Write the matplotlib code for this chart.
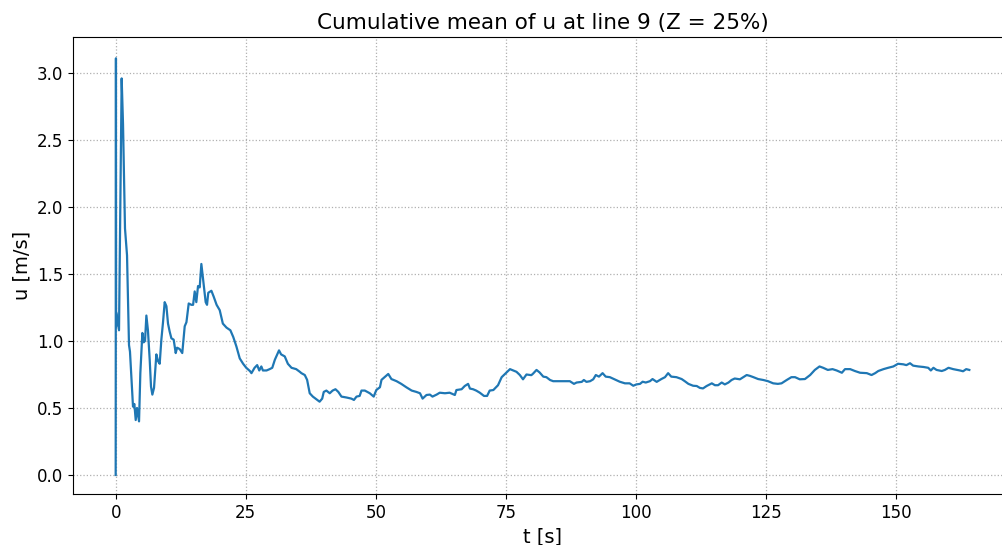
import matplotlib
matplotlib.use("Agg")
import matplotlib.pyplot as plt
import numpy as np

# cumulative mean of u
t = [0.0, 0.05, 0.08, 0.13, 0.64, 1.15, 1.41, 1.79, 2.18, 2.56, 2.75, 3.33, 3.59, 3.85, 4.1, 4.49,
     4.74, 5.13, 5.38, 5.64, 5.9, 6.2, 6.54, 6.79, 7.05, 7.37, 7.82, 8.14, 8.46, 8.78, 9.1,
     9.42, 9.75, 10.06, 10.38, 10.71, 11.15, 11.54, 11.8, 12.3, 12.8, 13.27, 13.6, 14.04,
     14.56, 14.88, 15.19, 15.5, 15.83, 16.15, 16.47, 16.9, 17.3, 17.56, 17.8, 18.4, 18.85,
     19.4, 20.0, 20.6, 21.3, 22.05, 22.6, 23.2, 23.85, 24.5, 25.1, 25.8, 26.1, 26.7, 27.2,
     27.6, 28.0, 28.3, 29.0, 29.6, 30.1, 30.6, 31.0, 31.4, 31.8, 32.5, 33.1, 33.8, 34.7,
     35.4, 35.7, 36.35, 36.8, 37.3, 37.9, 38.6, 39.2, 39.7, 40.0, 40.5, 41.15, 41.7, 42.25,
     42.8, 43.4, 44.4, 45.3, 45.8, 46.3, 46.9, 47.25, 47.9, 48.85, 49.6, 50.1, 50.8, 51.1,
     51.7, 52.4, 53.0, 54.0, 54.9, 55.9, 56.9, 57.8, 58.5, 59.0, 59.75, 60.4, 60.9, 61.7,
     62.3, 63.3, 64.2, 65.2, 65.5, 66.5, 67.1, 67.75, 68.1, 68.7, 69.3, 70.0, 70.8, 71.4,
     71.9, 72.6, 73.5, 74.2, 75.0, 75.8, 76.4, 77.05, 77.7, 78.3, 78.97, 79.9, 80.2, 80.9,
     81.5, 82.2, 82.8, 83.5, 84.1, 85.1, 86.1, 87.3, 88.1, 88.6, 89.6, 90.0, 90.5, 91.2,
     91.8, 92.3, 92.9, 93.6, 94.2, 95.0, 95.9, 96.9, 97.9, 98.8, 99.5, 100.1, 100.8, 101.3,
     101.9, 102.7, 103.2, 104.0, 104.9, 105.6, 106.2, 106.8, 107.8, 108.8, 109.4, 110.1,
     111.0, 111.7, 112.3, 112.9, 113.6, 114.6, 115.2, 115.8, 116.5, 117.1, 117.8, 118.4,
     119.0, 120.0, 121.3, 121.9, 122.6, 123.5, 124.5, 125.4, 126.4, 127.3, 128.0, 129.0,
     129.9, 130.6, 131.5, 132.5, 133.5, 134.4, 135.3, 136.0, 136.9, 137.8, 138.6, 139.6,
     140.2, 141.2, 142.1, 143.1, 144.4, 145.3, 146.0, 146.6, 147.6, 148.5, 149.5, 150.4,
     151.4, 152.0, 152.7, 153.3, 154.3, 155.3, 156.2, 156.7, 157.2, 157.8, 158.8, 159.4,
     160.1, 161.0, 162.3, 162.9, 163.5, 164.1]
u = [0.0, 3.11, 1.11, 1.21, 1.08, 2.96, 2.62, 1.84, 1.64, 0.97, 0.92, 0.51, 0.53, 0.41, 0.50, 0.40,
     0.76, 1.06, 0.99, 1.00, 1.19, 1.08, 0.86, 0.66, 0.60, 0.65, 0.90, 0.85, 0.83, 1.01, 1.14,
     1.29, 1.26, 1.13, 1.07, 1.02, 1.01, 0.91, 0.95, 0.94, 0.91, 1.11, 1.14, 1.28,
     1.27, 1.27, 1.37, 1.29, 1.41, 1.40, 1.575, 1.43, 1.29, 1.27, 1.36, 1.375, 1.33,
     1.27, 1.23, 1.13, 1.10, 1.08, 1.03, 0.96, 0.87, 0.83, 0.80, 0.776, 0.76, 0.80, 0.82,
     0.78, 0.81, 0.78, 0.78, 0.79, 0.80, 0.86, 0.895, 0.93, 0.90, 0.885, 0.83, 0.80, 0.79,
     0.77, 0.76, 0.746, 0.71, 0.61, 0.585, 0.565, 0.547, 0.57, 0.62, 0.63, 0.61, 0.63, 0.64,
     0.62, 0.585, 0.578, 0.57, 0.56, 0.585, 0.59, 0.63, 0.63, 0.61, 0.585, 0.634, 0.655, 0.71,
     0.73, 0.754, 0.716, 0.70, 0.68, 0.654, 0.63, 0.62, 0.61, 0.57, 0.597, 0.60, 0.585, 0.60,
     0.614, 0.61, 0.614, 0.597, 0.634, 0.64, 0.664, 0.68, 0.645, 0.64, 0.63, 0.614, 0.59, 0.59,
     0.63, 0.634, 0.67, 0.73, 0.76, 0.79, 0.78, 0.77, 0.746, 0.714, 0.75, 0.745, 0.755, 0.784,
     0.765, 0.734, 0.73, 0.709, 0.70, 0.70, 0.70, 0.70, 0.68, 0.69, 0.695, 0.709, 0.695, 0.70,
     0.714, 0.746, 0.734, 0.76, 0.734, 0.73, 0.714, 0.696, 0.684, 0.684, 0.666, 0.676, 0.68, 0.696,
     0.69, 0.70, 0.716, 0.695, 0.716, 0.73, 0.76, 0.734, 0.73, 0.716, 0.70, 0.68,
     0.666, 0.664, 0.65, 0.646, 0.664, 0.684, 0.67, 0.67, 0.69, 0.676, 0.69, 0.709,
     0.72, 0.714, 0.746, 0.74, 0.73, 0.716, 0.709, 0.70, 0.684, 0.68, 0.684, 0.709,
     0.73, 0.73, 0.714, 0.716, 0.746, 0.784, 0.81, 0.80, 0.784, 0.79, 0.78, 0.763,
     0.79, 0.79, 0.776, 0.763, 0.76, 0.746, 0.76, 0.776, 0.79, 0.80, 0.81, 0.83,
     0.826, 0.82, 0.834, 0.816, 0.81, 0.806, 0.80, 0.78, 0.80, 0.784, 0.776, 0.784,
     0.80, 0.79, 0.78, 0.774, 0.79, 0.784]

fig = plt.figure(figsize=(10.03, 5.45), dpi=100)
# the axes run a little past the right edge of the figure, as in the reference
ax = fig.add_axes([73/1003, 51/545, 939/1003, 457/545])

ax.plot(t, u, color="tab:blue", lw=1.6)

ax.set_ylim(-0.142, 3.269)
ax.set_xticks([0, 25, 50, 75, 100, 125, 150])
ax.set_yticks(np.arange(0, 3.01, 0.5))

ax.grid(True, linestyle=":", color="#b0b0b0", lw=0.9)
ax.tick_params(labelsize=12)
ax.set_xlabel("t [s]", fontsize=14)
ax.set_ylabel("u [m/s]", fontsize=14)
ax.set_title("Cumulative mean of u at line 9 (Z = 25%)", fontsize=15.5)

fig.savefig("out.png", dpi=100)
